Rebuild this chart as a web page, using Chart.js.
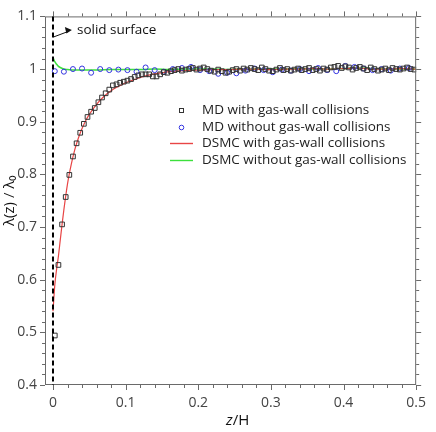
<!DOCTYPE html>
<html><head><meta charset="utf-8">
<script src="https://cdn.jsdelivr.net/npm/chart.js@4/dist/chart.umd.min.js"></script>
<style>html,body{margin:0;padding:0;background:#fff}</style>
</head><body>
<canvas id="c" width="436" height="432"></canvas>
<script>
// ---- data ----
const mdWithValues = [
0.494,0.628,0.705,0.757,0.799,0.834,0.859,0.879,0.896,0.909,
0.919,0.926,0.937,0.946,0.954,0.961,0.969,0.971,0.974,0.976,
0.978,0.981,0.985,0.988,0.990,0.990,0.990,0.986,0.986,0.990,
0.994,0.993,0.996,0.998,1.000,0.997,0.999,1.000,1.002,0.999,
1.001,1.003,1.000,0.997,0.995,0.999,0.996,0.993,0.995,0.998,
1.000,0.997,1.001,0.999,1.002,1.000,0.998,1.003,1.000,0.997,
0.996,0.999,1.002,0.998,1.000,0.997,0.999,1.001,0.998,1.000,
1.002,0.998,1.000,0.997,1.001,0.999,1.003,1.004,1.006,1.002,
1.005,1.003,0.999,1.002,1.004,1.001,0.998,1.003,1.000,0.997,
0.999,1.001,0.998,1.002,1.000,0.999,1.001,1.003,1.000,0.999];
const mdWithoutValues = [
0.996,0.995,1.000,1.001,0.993,1.000,0.998,0.999,0.998,0.995,
1.003,0.998,0.995,1.000,1.002,1.004,0.998,0.996,0.991,0.993,
0.992,0.997,1.001,0.998,0.994,0.999,0.997,1.000,0.996,1.002,
0.998,0.996,1.006,1.004,1.001,0.998,1.000,0.997,1.001,1.002];
const dsmcWithZ = [0,0.0025,0.005,0.0075,0.01,0.0125,0.015,0.02,0.025,0.03,0.035,0.04,0.045,0.05,
0.06,0.07,0.08,0.09,0.1,0.11,0.12,0.13,0.14,0.15,0.16,0.18,0.2,0.22,0.24,0.26,0.28,0.3,
0.32,0.34,0.36,0.38,0.4,0.42,0.44,0.46,0.48,0.5];
const dsmcWithValues = [0.54,0.59,0.62,0.645,0.675,0.705,0.733,0.782,0.818,0.847,0.869,0.887,0.902,0.914,
0.933,0.948,0.959,0.967,0.974,0.979,0.984,0.988,0.991,0.993,0.995,0.997,0.998,0.999,0.999,1.0,1.0,0.999,
1.0,1.0,1.001,1.0,1.001,1.002,1.0,1.0,1.001,1.0];
const dsmcWithoutZ = [0,0.0025,0.005,0.0075,0.01,0.015,0.02,0.03,0.04,0.06,0.08,0.1,0.12,0.14,0.16,0.18,0.2,
0.22,0.24,0.26,0.28,0.3,0.32,0.34,0.36,0.38,0.4,0.42,0.44,0.46,0.48,0.5];
const dsmcWithoutValues = [1.022,1.014,1.009,1.005,1.003,1.0,0.999,0.998,0.998,0.998,0.999,0.999,0.999,1.0,0.999,1.0,1.0,
1.0,0.999,1.0,1.0,1.0,1.0,1.001,1.0,1.0,1.001,1.002,1.001,1.0,1.0,1.0];
const xMajorTicks = [0,0.1,0.2,0.3,0.4,0.5];
const yMajorTicks = [0.4,0.5,0.6,0.7,0.8,0.9,1,1.1];
const seriesNames = ['MD with gas-wall collisions','MD without gas-wall collisions',
  'DSMC with gas-wall collisions','DSMC without gas-wall collisions'];
const annotationText = 'solid surface';

// sample positions of the MD bins
const mdWithZ = mdWithValues.map((_, i) => 0.0025 + 0.005 * i);
const mdWithoutZ = mdWithoutValues.map((_, i) => 0.0025 + 0.0125 * i);
const pts = (xs, ys) => xs.map((x, i) => ({x, y: ys[i]}));

Chart.defaults.font.family = "'Open Sans', 'Noto Sans', sans-serif";

const AXIS = '#6a6a6a';
const COLORS = ['#333333', '#3434e0', '#e84545', '#3ce03c'];
const decor = {
  id: 'decor',
  afterDatasetsDraw(chart) {
    const {ctx, chartArea: a, scales: {x, y}} = chart;
    ctx.save();
    // frame
    ctx.strokeStyle = AXIS; ctx.lineWidth = 1;
    ctx.strokeRect(a.left + 0.5, a.top + 0.5, a.right - a.left - 1, a.bottom - a.top - 1);
    // ticks (outward), major every 0.1, minor every 0.02
    ctx.beginPath();
    for (let k = 0; k <= 25; k++) {
      const v = k * 0.02;
      const px = Math.round(x.getPixelForValue(v)) + 0.5;
      const len = (k % 5 === 0) ? 5 : 3;
      ctx.moveTo(px, a.bottom); ctx.lineTo(px, a.bottom + len);
      ctx.moveTo(px, a.top); ctx.lineTo(px, a.top - len);
    }
    for (let k = 0; k <= 35; k++) {
      const v = 0.4 + k * 0.02;
      const py = Math.round(y.getPixelForValue(v)) + 0.5;
      const len = (k % 5 === 0) ? 5 : 3;
      ctx.moveTo(a.left, py); ctx.lineTo(a.left - len, py);
      ctx.moveTo(a.right, py); ctx.lineTo(a.right + len, py);
    }
    ctx.stroke();
    // dashed surface line at z = 0
    const x0 = x.getPixelForValue(0);
    ctx.beginPath();
    ctx.setLineDash([5, 3]);
    ctx.strokeStyle = '#000'; ctx.lineWidth = 2;
    ctx.moveTo(x0, a.top); ctx.lineTo(x0, a.bottom);
    ctx.stroke();
    ctx.setLineDash([]);
    // annotation arrow + text
    const sx = x.getPixelForValue(0.001), sy = y.getPixelForValue(1.061);
    const ex = x.getPixelForValue(0.026), ey = y.getPixelForValue(1.074);
    ctx.strokeStyle = '#111'; ctx.lineWidth = 1;
    ctx.beginPath(); ctx.moveTo(sx, sy); ctx.lineTo(ex - 4, ey + 1.5); ctx.stroke();
    ctx.fillStyle = '#111';
    ctx.beginPath(); ctx.moveTo(ex, ey); ctx.lineTo(ex - 7, ey - 3); ctx.lineTo(ex - 5.5, ey + 3.5); ctx.closePath(); ctx.fill();
    ctx.font = "13.5px 'Open Sans', sans-serif";
    ctx.textBaseline = 'middle'; ctx.textAlign = 'left';
    ctx.fillText(annotationText, x.getPixelForValue(0.033), y.getPixelForValue(1.073));
    // legend
    const ds = chart.data.datasets;
    const rows = [110.5, 127.5, 143.5, 160.5];
    const mx = 181.5;
    ds.forEach((d, i) => {
      const ry = rows[i];
      if (i < 2) {
        ctx.strokeStyle = COLORS[i]; ctx.lineWidth = 1;
        if (i === 0) ctx.strokeRect(mx - 2, ry - 2, 4, 4);
        else { ctx.beginPath(); ctx.arc(mx, ry, 2.3, 0, Math.PI * 2); ctx.stroke(); }
      } else {
        ctx.strokeStyle = COLORS[i]; ctx.lineWidth = 1.4;
        ctx.beginPath(); ctx.moveTo(170, ry); ctx.lineTo(193, ry); ctx.stroke();
      }
      ctx.fillStyle = '#222';
      ctx.font = "13.5px 'Open Sans', sans-serif";
      ctx.fillText(d.label, 202, ry);
    });
    // x title: italic z, upright /H
    ctx.fillStyle = '#111';
    ctx.textBaseline = 'middle';
    ctx.font = "italic 15px 'Open Sans', sans-serif";
    const w1 = ctx.measureText('z').width;
    ctx.font = "15px 'Open Sans', sans-serif";
    const w2 = ctx.measureText('/H').width;
    const cx = (a.left + a.right) / 2 + 7;
    let tx = cx - (w1 + w2) / 2;
    ctx.font = "italic 15px 'Open Sans', sans-serif";
    ctx.fillText('z', tx, 421);
    ctx.font = "15px 'Open Sans', sans-serif";
    ctx.fillText('/H', tx + w1, 421);
    ctx.restore();
  }
};

new Chart(document.getElementById('c'), {
  type: 'scatter',
  data: {
    datasets: [
      {label: seriesNames[0], data: pts(mdWithZ, mdWithValues), pointStyle: 'rect', pointRadius: 3.3,
       pointBorderColor: COLORS[0], pointBackgroundColor: 'rgba(0,0,0,0)', pointBorderWidth: 1, showLine: false, order: 1},
      {label: seriesNames[1], data: pts(mdWithoutZ, mdWithoutValues), pointStyle: 'circle', pointRadius: 2.5,
       pointBorderColor: COLORS[1], pointBackgroundColor: 'rgba(0,0,0,0)', pointBorderWidth: 1, showLine: false, order: 1},
      {label: seriesNames[2], data: pts(dsmcWithZ, dsmcWithValues), showLine: true, pointRadius: 0,
       borderColor: COLORS[2], borderWidth: 1.2, cubicInterpolationMode: 'monotone', order: 2},
      {label: seriesNames[3], data: pts(dsmcWithoutZ, dsmcWithoutValues), showLine: true, pointRadius: 0,
       borderColor: COLORS[3], borderWidth: 1.5, cubicInterpolationMode: 'monotone', order: 2}
    ]
  },
  options: {
    responsive: false, animation: false,
    layout: {padding: {top: 12, right: 18, left: 0, bottom: 0}},
    plugins: {legend: {display: false}, tooltip: {enabled: false}},
    scales: {
      x: {
        type: 'linear', min: -0.011, max: 0.5,
        grid: {display: false, drawTicks: false}, border: {display: false},
        afterBuildTicks: s => { s.ticks = xMajorTicks.map(v => ({value: v})); },
        afterFit: s => { s.height = 47; },
        ticks: {padding: 10, color: '#444', font: {size: 14}, maxRotation: 0, autoSkip: false,
          callback: v => String(+Number(v).toFixed(1))}
      },
      y: {
        type: 'linear', min: 0.4, max: 1.1,
        grid: {display: false, drawTicks: false}, border: {display: false},
        afterBuildTicks: s => { s.ticks = yMajorTicks.map(v => ({value: v})); },
        afterFit: s => { s.width = 45; },
        ticks: {padding: 8, color: '#444', font: {size: 14}, autoSkip: false,
          callback: v => String(+Number(v).toFixed(1))},
        title: {display: true, text: 'λ(z) / λ₀', color: '#111', font: {size: 15}, padding: {top: 1, bottom: 0}}
      }
    }
  },
  plugins: [decor]
});
</script>
</body></html>
